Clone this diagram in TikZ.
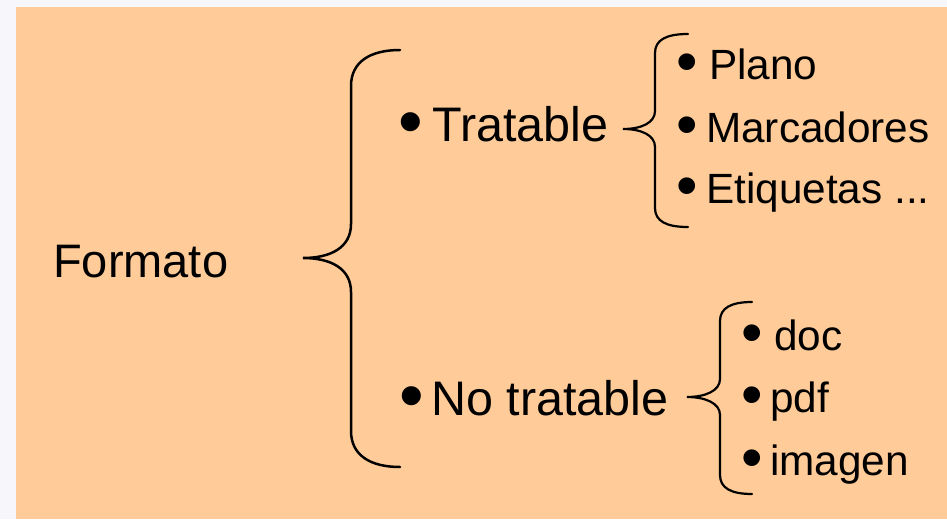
\documentclass[tikz,border=0pt]{standalone}
\usepackage{fontspec}
\setmainfont{Liberation Sans}
\definecolor{peach}{HTML}{FFCC99}
\definecolor{outer}{HTML}{F6F6FB}
\newcommand{\bulletmark}{\raisebox{-0.09em}{\scalebox{1.45}{•}}}
\begin{document}
\begin{tikzpicture}[x=1pt,y=-1pt,
  big/.style={anchor=base west,inner sep=0pt,font=\fontsize{48.5}{58}\selectfont},
  small/.style={anchor=base west,inner sep=0pt,font=\fontsize{42.3}{50}\selectfont},
  bigbrace/.style={line width=2.5pt,line cap=round},
  smallbrace/.style={line width=2.2pt,line cap=round}]
\useasboundingbox (0,0) rectangle (947,519);
\fill[outer] (0,0) rectangle (947,519);
\fill[peach] (16,7) rectangle (947,519);
% texts
\node[anchor=base west,inner sep=0pt,font=\fontsize{47}{56}\selectfont] (formato) at (53,277) {Formato};
\node[big] (trat) at (398,141) {\makebox[34pt][l]{\bulletmark}Tratable};
\node[big] (notrat) at (399,415) {\makebox[32pt][l]{\bulletmark}No tratable};
\node[small] (plano) at (676,79) {\makebox[33pt][l]{\bulletmark}Plano};
\node[small] (marc) at (676,142) {\makebox[30pt][l]{\bulletmark}Marcadores};
\node[small] (etiq) at (676,203) {\makebox[30pt][l]{\bulletmark}Etiquetas ...};
\node[small] (doc) at (741,350) {\makebox[33pt][l]{\bulletmark}doc};
\node[small] (pdf) at (741,412) {\makebox[29pt][l]{\bulletmark}pdf};
\node[small] (img) at (741,475) {\makebox[29pt][l]{\bulletmark}imagen};
% brace anchors
\coordinate (b0top) at (400,50);
\coordinate (b0tip) at (303,258);
\coordinate (b0bot) at (400,467);
\coordinate (b1top) at (688,34);
\coordinate (b1tip) at (623,129);
\coordinate (b1bot) at (688,227);
\coordinate (b2top) at (752,302);
\coordinate (b2tip) at (687,397);
\coordinate (b2bot) at (752,494);
% big brace
\draw[bigbrace] (b0top) .. controls (370,50) and (351,62) .. (351,86) -- (351,224)
  .. controls (351,248) and (330,258) .. (b0tip)
  .. controls (330,258) and (351,268) .. (351,292) -- (351,431)
  .. controls (351,455) and (370,467) .. (b0bot);
% brace Tratable
\draw[smallbrace] (b1top) .. controls (666,34) and (655,40) .. (655,53) -- (655,111)
  .. controls (655,123) and (641,129) .. (b1tip)
  .. controls (641,129) and (655,135) .. (655,147) -- (655,208)
  .. controls (655,221) and (666,227) .. (b1bot);
% brace No tratable
\draw[smallbrace] (b2top) .. controls (731,302) and (720,308) .. (720,321) -- (720,379)
  .. controls (720,391) and (705,397) .. (b2tip)
  .. controls (705,397) and (720,403) .. (720,415) -- (720,475)
  .. controls (720,488) and (731,494) .. (b2bot);
\end{tikzpicture}
\end{document}
